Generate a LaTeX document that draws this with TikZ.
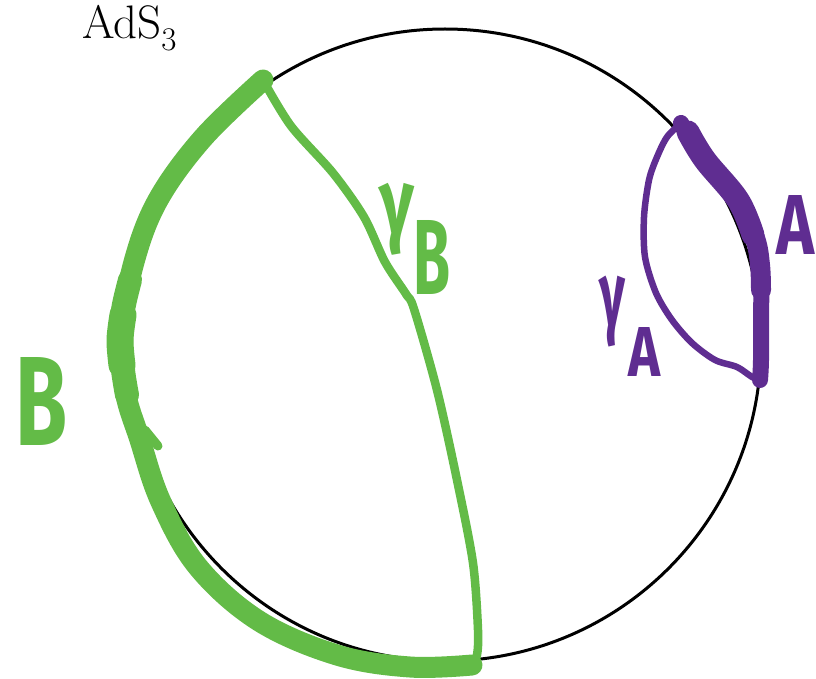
\documentclass[tikz,border=0pt]{standalone}
\usepackage{fontspec}
\usepackage{graphicx}
\newfontfamily\handfont{Fira Sans}
\definecolor{hgreen}{RGB}{99,187,71}
\definecolor{hpurple}{RGB}{95,45,145}
\newcommand{\handtxt}[3]{\resizebox*{#1}{#2}{\handfont\bfseries #3}}
\begin{document}
\begin{tikzpicture}[x=1pt,y=-1pt,
  bulk/.style={draw=black, line width=3pt},
  regionB/.style={draw=hgreen, line width=21pt, line cap=round, line join=round},
  geoB/.style={draw=hgreen, line width=8.5pt, line cap=round, line join=round},
  regionA/.style={draw=hpurple, line width=16pt, line cap=round, line join=round},
  geoA/.style={draw=hpurple, line width=6.5pt, line cap=round, line join=round},
  lbl/.style={inner sep=0pt, outer sep=0pt, anchor=center}]
\useasboundingbox (0,0) rectangle (816,679);
\clip (0,0) rectangle (816,679);

% AdS_3 boundary circle
\coordinate (ctr) at (445,345);
\draw[bulk] (ctr) circle[radius=316];

% end points
\coordinate (Btop) at (263,80);
\coordinate (Bbot) at (472,665);
\coordinate (Atop) at (681,123);
\coordinate (Abot) at (760,380);

% region B on the boundary
\draw[regionB] plot[smooth, tension=0.6] coordinates {(Btop) (203,138) (158,200) (134,262) (122,330) (125,390) (140,440) (161,502) (198,567) (259,621) (337,655) (410,667) (Bbot)};
\draw[regionB, line width=24pt] plot[smooth, tension=0.6] coordinates {(130,280) (123,310) (121,340) (123,370) (127,395)};
\draw[regionB, line width=27pt] plot[smooth, tension=0.6] coordinates {(123,315) (120,340) (122,365)};
\draw[regionB, line width=9pt] (145,430) -- (158,446);

% geodesic gamma_B
\draw[geoB] plot[smooth, tension=0.5] coordinates {(Btop) (291,126) (333,173) (364,217) (385,262) (406,294) (414,309) (437,390) (457,480) (473,563) (478,630) (477,655) (Bbot)};

% region A on the boundary
\draw[regionA] plot[smooth, tension=0.6] coordinates {(Atop) (705,160) (738,200) (755,238) (761,270) (761,320) (761,360) (Abot)};
\draw[regionA, line width=23pt] plot[smooth, tension=0.6] coordinates {(688,132) (705,160) (738,200) (753,235)};
\draw[regionA, line width=20pt] plot[smooth, tension=0.6] coordinates {(738,200) (755,238) (760,265) (761,290)};

% geodesic gamma_A
\draw[geoA] plot[smooth, tension=0.5] coordinates {(Atop) (667,137) (657,157) (649,180) (644,217) (645,257) (656,293) (672,320) (692,343) (715,360) (737,367) (752,377) (Abot)};

% labels
\node[lbl, anchor=base west] (ads) at (82,39) {\fontsize{47}{52}\selectfont AdS\raisebox{-0.24em}{\fontsize{33}{36}\selectfont 3}};
\node[lbl, text=hgreen] (gB) at (397,219) {\handtxt{35pt}{72pt}{γ}};
\node[lbl, text=hgreen] (gBsub) at (432,257) {\handtxt{37pt}{74pt}{B}};
\node[lbl, text=hgreen] (labB) at (42,401) {\handtxt{52pt}{88pt}{B}};
\node[lbl, text=hpurple] (gA) at (612,312) {\handtxt{26pt}{71pt}{γ}};
\node[lbl, text=hpurple] (gAsub) at (644,352) {\handtxt{32pt}{49pt}{A}};
\node[lbl, text=hpurple] (labA) at (795,225) {\handtxt{38pt}{59pt}{A}};
\end{tikzpicture}
\end{document}
